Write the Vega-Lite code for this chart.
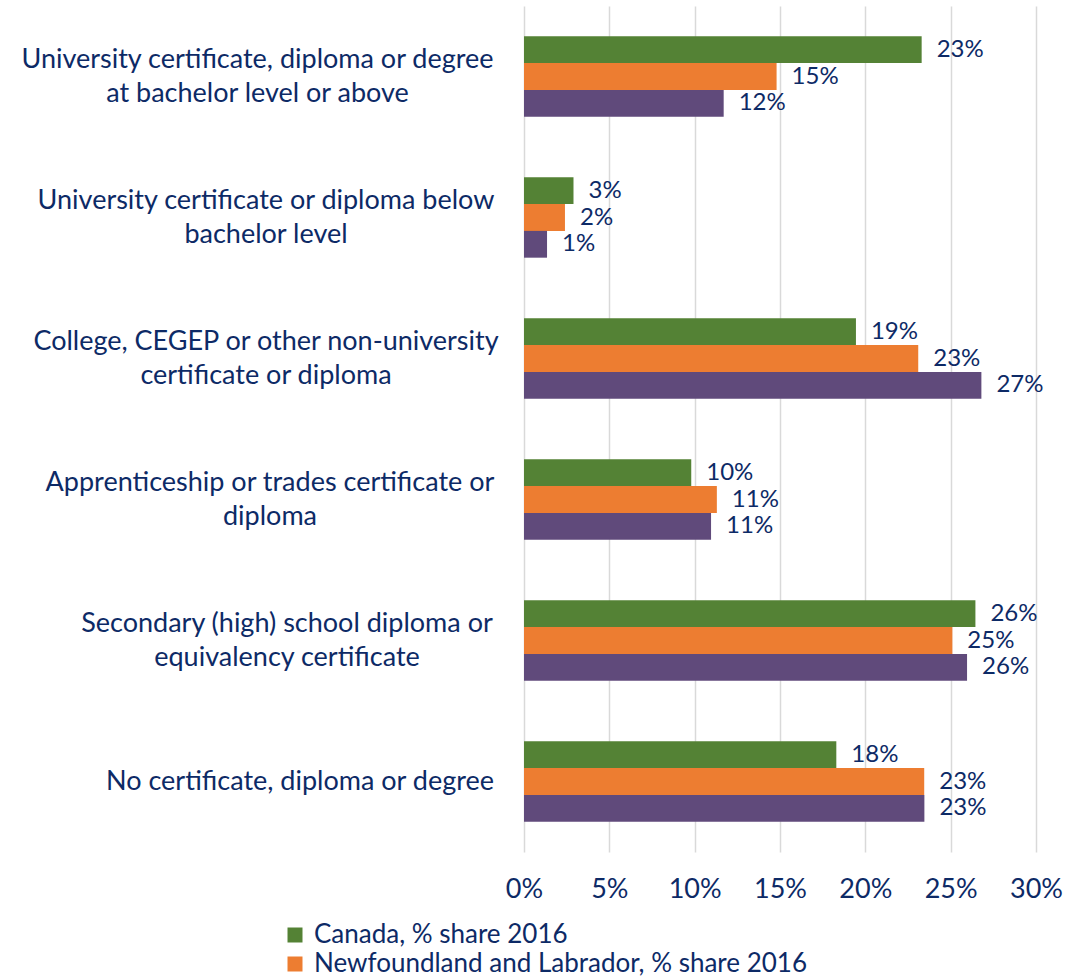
{
  "$schema": "https://vega.github.io/schema/vega-lite/v6.json",
  "autosize": {"type": "none"},
  "width": 512,
  "height": 846,
  "padding": {"left": 524, "top": 6, "right": 46, "bottom": 127},
  "background": "white",
  "config": {
    "font": "Lato",
    "view": {"stroke": null}
  },
  "data": {
    "values": [
      {"category": "University certificate, diploma or degree|at bachelor level or above", "series": "Canada, % share 2016", "value": 0.233},
      {"category": "University certificate, diploma or degree|at bachelor level or above", "series": "Newfoundland and Labrador, % share 2016", "value": 0.148},
      {"category": "University certificate, diploma or degree|at bachelor level or above", "series": "Region, % share 2016", "value": 0.117},
      {"category": "University certificate or diploma below|bachelor level", "series": "Canada, % share 2016", "value": 0.029},
      {"category": "University certificate or diploma below|bachelor level", "series": "Newfoundland and Labrador, % share 2016", "value": 0.024},
      {"category": "University certificate or diploma below|bachelor level", "series": "Region, % share 2016", "value": 0.0135},
      {"category": "College, CEGEP or other non-university|certificate or diploma", "series": "Canada, % share 2016", "value": 0.1945},
      {"category": "College, CEGEP or other non-university|certificate or diploma", "series": "Newfoundland and Labrador, % share 2016", "value": 0.231},
      {"category": "College, CEGEP or other non-university|certificate or diploma", "series": "Region, % share 2016", "value": 0.268},
      {"category": "Apprenticeship or trades certificate or|diploma", "series": "Canada, % share 2016", "value": 0.098},
      {"category": "Apprenticeship or trades certificate or|diploma", "series": "Newfoundland and Labrador, % share 2016", "value": 0.113},
      {"category": "Apprenticeship or trades certificate or|diploma", "series": "Region, % share 2016", "value": 0.1096},
      {"category": "Secondary (high) school diploma or|equivalency certificate", "series": "Canada, % share 2016", "value": 0.2645},
      {"category": "Secondary (high) school diploma or|equivalency certificate", "series": "Newfoundland and Labrador, % share 2016", "value": 0.251},
      {"category": "Secondary (high) school diploma or|equivalency certificate", "series": "Region, % share 2016", "value": 0.2596},
      {"category": "No certificate, diploma or degree", "series": "Canada, % share 2016", "value": 0.183},
      {"category": "No certificate, diploma or degree", "series": "Newfoundland and Labrador, % share 2016", "value": 0.2345},
      {"category": "No certificate, diploma or degree", "series": "Region, % share 2016", "value": 0.2346}
    ]
  },
  "encoding": {
    "y": {
      "field": "category",
      "type": "nominal",
      "sort": null,
      "scale": {"paddingInner": 0.43, "paddingOuter": 0.215},
      "axis": {
        "title": null,
        "domain": false,
        "ticks": false,
        "labelExpr": "split(datum.label, '|')",
        "labelFontSize": 27,
        "labelColor": "#0d2a66",
        "labelLineHeight": 34,
        "labelLimit": 600,
        "labelAlign": "center",
        "labelOffset": {"condition": {"test": "indexof(datum.value, '|') >= 0", "value": -17}, "value": 0},
        "labelPadding": {
          "condition": [
            {"test": "indexof(datum.value, 'at bachelor level') >= 0", "value": 267},
            {"test": "indexof(datum.value, 'below') >= 0", "value": 258.5},
            {"test": "indexof(datum.value, 'College') >= 0", "value": 258.5},
            {"test": "indexof(datum.value, 'Apprenticeship') >= 0", "value": 254.5},
            {"test": "indexof(datum.value, 'Secondary') >= 0", "value": 237.5}
          ],
          "value": 224.5
        }
      }
    },
    "yOffset": {
      "field": "series",
      "type": "nominal",
      "scale": {"domain": ["Canada, % share 2016", "Newfoundland and Labrador, % share 2016", "Region, % share 2016"], "paddingInner": 0, "paddingOuter": 0}
    },
    "x": {
      "field": "value",
      "type": "quantitative",
      "scale": {"domain": [0, 0.3]},
      "axis": {
        "title": null,
        "format": ".0%",
        "values": [0, 0.05, 0.1, 0.15, 0.2, 0.25, 0.3],
        "labelOverlap": false,
        "labelBound": false,
        "labelFlush": false,
        "domain": false,
        "ticks": false,
        "grid": true,
        "gridColor": "#d9d9d9",
        "gridWidth": 1.5,
        "labelFontSize": 27,
        "labelColor": "#0d2a66",
        "labelPadding": 24
      }
    }
  },
  "layer": [
    {
      "mark": {"type": "bar"},
      "encoding": {
        "color": {
          "field": "series",
          "type": "nominal",
          "scale": {
            "domain": ["Canada, % share 2016", "Newfoundland and Labrador, % share 2016", "Region, % share 2016"],
            "range": ["#548235", "#ed7d31", "#604a7b"]
          },
          "legend": {
            "title": null,
            "orient": "none",
            "legendX": -242,
            "legendY": 916,
            "padding": 0,
            "direction": "vertical",
            "values": ["Canada, % share 2016", "Newfoundland and Labrador, % share 2016"],
            "symbolType": "square",
            "symbolSize": 225,
            "symbolStrokeWidth": 0,
            "labelFontSize": 26,
            "labelColor": "#0d2a66",
            "labelLimit": 800,
            "rowPadding": 3,
            "labelOffset": 6
          }
        }
      }
    },
    {
      "mark": {"type": "text", "align": "left", "baseline": "middle", "dx": 15, "fontSize": 24, "color": "#0d2a66"},
      "encoding": {
        "text": {"field": "value", "type": "quantitative", "format": ".0%"}
      }
    }
  ]
}
